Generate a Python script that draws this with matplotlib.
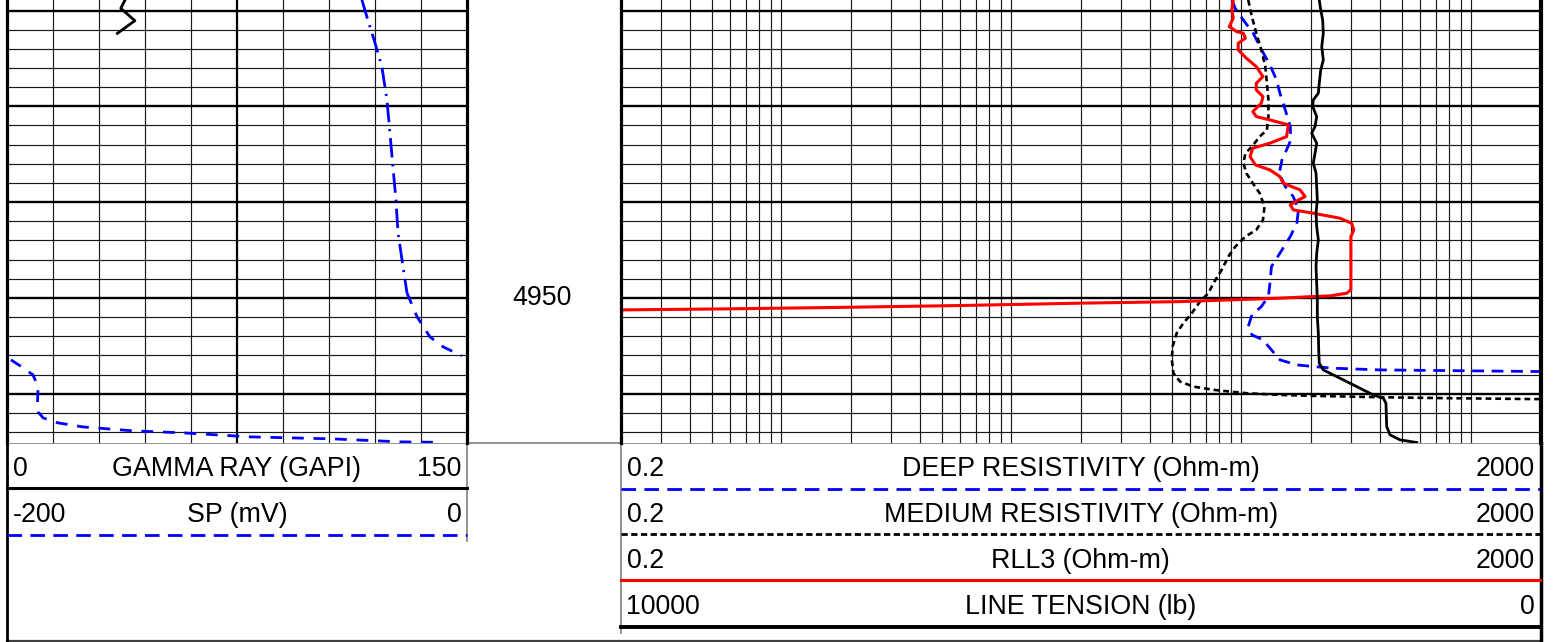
import numpy as np
import matplotlib
matplotlib.use("Agg")
import matplotlib.pyplot as plt
from matplotlib.ticker import FixedLocator, NullLocator

plt.rcParams['font.family'] = ['Liberation Sans', 'DejaVu Sans']
plt.rcParams['lines.scale_dashes'] = False

W, H = 1554, 642

# depth window shown (ft)
top_depth, bot_depth = 4918.9, 4965.15
depth_labels = [4950]

# gamma ray (GAPI) - log ends near the top of the window
gr_depth = [4918.89, 4919.77, 4921.06, 4922.38]
gr = [38.5, 37.1, 41.7, 36.0]

# SP (mV), values above 0 wrap around the -200..0 scale
sp_depth = [4918.89, 4920.67, 4923.38, 4925.89, 4929.33, 4932.78, 4936.33, 4939.77,
            4943.21, 4946.76, 4949.48, 4951.98, 4954.07, 4955.11, 4956.05, 4956.47,
            4957.2, 4958.04, 4959.29, 4960.65, 4961.9, 4962.53, 4963.05, 4963.47,
            4963.88, 4964.09, 4964.51, 4964.72, 4965.03, 4965.08]
sp = [-45.7, -43.5, -40.0, -37.0, -34.8, -33.5, -32.2, -30.9, -30.0, -27.8, -26.1,
      -21.7, -16.1, -10.4, -2.2, 1.7, 6.4, 11.3, 13.5, 13.3, 13.5, 15.7, 22.2, 33.0,
      54.8, 76.5, 105.7, 141.7, 170.9, 188.3]

# deep resistivity (ohm-m)
deep_depth = [4918.89, 4919.76, 4920.98, 4922.37, 4924.11, 4925.68, 4927.24, 4928.63,
              4930.37, 4932.12, 4933.51, 4934.55, 4935.6, 4936.98, 4938.38, 4939.43,
              4940.81, 4942.2, 4943.6, 4945.33, 4946.73, 4948.47, 4949.86, 4950.91,
              4951.77, 4953.0, 4953.86, 4954.38, 4955.43, 4956.47, 4956.99, 4957.17,
              4957.34, 4957.52, 4957.59, 4957.69, 4957.77, 4965.2]
deep = [91, 93.8, 101.8, 112.5, 122.4, 133, 142, 147, 155, 163, 164, 157, 150, 146,
        155, 168, 177, 174, 163, 147, 135, 133, 131, 122, 111, 107, 111, 124, 135,
        147, 174, 205, 251, 400, 780, 2000, 2600, 3000]

# medium resistivity (ohm-m)
med_depth = [4918.89, 4920.64, 4922.37, 4924.11, 4925.85, 4927.59, 4929.33, 4931.07,
             4932.46, 4933.16, 4934.21, 4934.9, 4935.94, 4936.98, 4938.03, 4939.07,
             4940.47, 4941.86, 4942.9, 4943.6, 4944.65, 4945.69, 4947.08, 4948.47,
             4949.51, 4950.39, 4951.6, 4952.64, 4953.68, 4955.08, 4956.47, 4957.86,
             4958.74, 4959.26, 4959.6, 4959.78, 4959.95, 4960.13, 4960.23, 4960.37,
             4960.47, 4960.57, 4960.65, 4965.2]
med = [107, 111, 116, 122, 127, 129, 131, 131, 129, 120, 111, 104, 102, 105, 112, 120,
       126, 124, 116, 104, 94, 87.7, 82, 75.5, 71.8, 66, 60.8, 55.9, 52.3, 50.2, 49.8,
       50.6, 54.1, 61.8, 75.5, 89.1, 105, 147, 205, 400, 780, 2000, 2600, 3000]

# RLL3 (ohm-m)
rll3_depth = [4918.89, 4919.94, 4920.8, 4921.68, 4922.2, 4922.37, 4922.89, 4923.41,
              4924.11, 4924.98, 4925.85, 4926.9, 4927.59, 4928.29, 4928.99, 4929.68,
              4930.55, 4931.07, 4931.42, 4931.94, 4933.16, 4933.85, 4934.37, 4935.25,
              4936.12, 4936.64, 4937.34, 4938.03, 4938.73, 4939.43, 4939.77, 4940.29,
              4940.81, 4941.16, 4941.68, 4942.2, 4942.9, 4943.6, 4949.16, 4949.51,
              4949.79, 4949.86, 4950.03, 4950.21, 4950.39, 4950.55, 4950.8, 4951.01,
              4951.15, 4951.25, 4951.3]
rll3 = [92.1, 90.8, 92.1, 88.5, 95.3, 101.8, 104, 96.8, 96.8, 105, 116, 124, 116, 116,
        124, 122, 112, 116, 133, 160, 157, 133, 112, 109, 115, 133, 147, 152, 180, 189,
        177, 163, 168, 205, 268, 301, 308, 299, 299, 287, 243, 205, 147, 89, 54, 20,
        5.9, 1.6, 0.56, 0.21, 0.15]

# line tension (lb)
ten_depth = [4918.89, 4919.94, 4920.98, 4922.37, 4923.77, 4925.16, 4926.2, 4927.59,
             4928.63, 4929.33, 4930.03, 4931.07, 4932.12, 4932.81, 4933.85, 4934.9,
             4935.94, 4936.98, 4938.38, 4939.77, 4941.16, 4942.56, 4943.95, 4945.33,
             4946.73, 4948.47, 4950.21, 4951.95, 4953.68, 4955.43, 4956.82, 4957.52,
             4958.22, 4959.26, 4960.13, 4960.47, 4960.99, 4963.43, 4964.3, 4964.82,
             4965.1]
tension = [2407, 2391, 2370, 2363, 2380, 2363, 2391, 2407, 2417, 2472, 2478, 2435,
           2453, 2489, 2435, 2453, 2472, 2442, 2435, 2428, 2442, 2435, 2417, 2435, 2442,
           2435, 2428, 2428, 2417, 2413, 2407, 2363, 2217, 2000, 1820, 1711, 1682, 1674,
           1638, 1529, 1348]

fig = plt.figure(figsize=(W / 100, H / 100), dpi=100)


def box(x0, y0, x1, y1):
    return [x0 / W, 1 - y1 / H, (x1 - x0) / W, (y1 - y0) / H]


frame = fig.add_axes([0, 0, 1, 1], zorder=0)
frame.set_xlim(0, W)
frame.set_ylim(H, 0)
frame.axis('off')


def style_track(ax):
    ax.set_ylim(bot_depth, top_depth)
    ax.tick_params(which='both', length=0, labelbottom=False, labelleft=False,
                   labeltop=False, labelright=False)
    ax.yaxis.set_major_locator(FixedLocator(np.arange(4920, 4970, 10)))
    ax.yaxis.set_minor_locator(FixedLocator(np.arange(4918, 4968, 2)))
    ax.grid(axis='y', which='major', color='black', lw=1.7)
    ax.grid(axis='y', which='minor', color='#1a1a1a', lw=0.85)
    ax.spines['top'].set_visible(False)
    ax.spines['bottom'].set_visible(False)
    for s in ('left', 'right'):
        ax.spines[s].set_linewidth(2.3)
    ax.set_axisbelow(True)


def hide_twin(ax):
    ax.tick_params(which='both', length=0, labeltop=False, labelbottom=False)
    for s in ax.spines.values():
        s.set_visible(False)
    ax.patch.set_visible(False)


# left track: gamma ray + SP
ax_gr = fig.add_axes(box(7, 0, 467, 443), zorder=2)
style_track(ax_gr)
ax_gr.set_xlim(0, 150)
ax_gr.xaxis.set_major_locator(FixedLocator([75]))
ax_gr.xaxis.set_minor_locator(FixedLocator(np.arange(15, 150, 15)))
ax_gr.grid(axis='x', which='major', color='black', lw=1.6)
ax_gr.grid(axis='x', which='minor', color='#1a1a1a', lw=0.85)
ax_gr.plot(gr, gr_depth, color='black', lw=2.0, solid_joinstyle='round')

ax_sp = ax_gr.twiny()
ax_sp.set_zorder(3)
hide_twin(ax_sp)
ax_sp.set_xlim(-200, 0)
sp = np.array(sp, dtype=float)
sp_depth = np.array(sp_depth)
sp_show = np.where(sp > 0, sp - 200, sp)
jump = np.where(np.diff(np.sign(sp)) != 0)[0] + 1
sp_show_b = np.insert(sp_show, jump, np.nan)
sp_depth_b = np.insert(sp_depth, jump, np.nan)
n_up = 11
ax_sp.plot(sp_show[:n_up], sp_depth[:n_up], color='#0000ff', lw=2.0,
           dashes=(14, 5, 1.5, 5))
ax_sp.plot(sp_show_b[n_up - 1:], sp_depth_b[n_up - 1:], color='#0000ff', lw=2.0,
           dashes=(8.5, 7))

# depth track
ax_dep = fig.add_axes(box(467, 0, 620.7, 443), zorder=1)
ax_dep.set_ylim(bot_depth, top_depth)
ax_dep.set_xlim(0, 1)
ax_dep.axis('off')
fs = 19.3
for d in depth_labels:
    ax_dep.text(0.49, d, str(d), ha='center', va='center', fontsize=fs)

# right track: resistivities + tension
ax_res = fig.add_axes(box(620.7, 0, 1540.7, 443), zorder=2)
style_track(ax_res)
ax_res.spines['right'].set_linewidth(3.0)
ax_res.set_xscale('log')
ax_res.set_xlim(0.2, 2000)
log_lines = [m * 10.0 ** e for e in range(-1, 4) for m in range(1, 10)]
log_lines = [v for v in log_lines if 0.2 < v < 2000]
ax_res.xaxis.set_major_locator(FixedLocator(log_lines))
ax_res.xaxis.set_minor_locator(NullLocator())
ax_res.grid(axis='x', which='major', color='#1a1a1a', lw=0.85)
ax_res.plot(deep, deep_depth, color='#0000ff', lw=2.0, dashes=(8.5, 5.5))
ax_res.plot(med, med_depth, color='black', lw=1.9, dashes=(4.2, 2.8))
ax_res.plot(rll3, rll3_depth, color='#ff0000', lw=2.2, solid_joinstyle='round')

ax_ten = ax_res.twiny()
ax_ten.set_zorder(3)
hide_twin(ax_ten)
ax_ten.set_xlim(10000, 0)
ax_ten.plot(tension, ten_depth, color='black', lw=2.0, solid_joinstyle='round')

# header / frame
gray = '#808080'
frame.plot([7, 1540.7], [443, 443], color=gray, lw=1.2)
frame.plot([7, 1540.7], [640.5, 640.5], color='#404040', lw=1.6)
frame.plot([7, 7], [443, 641], color='black', lw=2.0)
frame.plot([1540.7, 1540.7], [443, 642], color='black', lw=2.5)
frame.plot([467, 467], [443, 541], color=gray, lw=1.2)
frame.plot([620.7, 620.7], [443, 633], color=gray, lw=1.2)

left_rows = [('0', 'GAMMA RAY (GAPI)', '150'), ('-200', 'SP (mV)', '0')]
right_rows = [('0.2', 'DEEP RESISTIVITY (Ohm-m)', '2000'),
              ('0.2', 'MEDIUM RESISTIVITY (Ohm-m)', '2000'),
              ('0.2', 'RLL3 (Ohm-m)', '2000'),
              ('10000', 'LINE TENSION (lb)', '0')]
row_base = [475.5, 521.5, 567.5, 613.5]
for (lo, name, hi), yb in zip(left_rows, row_base):
    frame.text(12.5, yb, lo, ha='left', va='baseline', fontsize=fs)
    frame.text(237, yb, name, ha='center', va='baseline', fontsize=fs)
    frame.text(461.5, yb, hi, ha='right', va='baseline', fontsize=fs)
for (lo, name, hi), yb in zip(right_rows, row_base):
    frame.text(626.5, yb, lo, ha='left', va='baseline', fontsize=fs)
    frame.text(1080.7, yb, name, ha='center', va='baseline', fontsize=fs)
    frame.text(1534.5, yb, hi, ha='right', va='baseline', fontsize=fs)

# legend strokes under each header row
frame.plot([7, 467], [488.3, 488.3], color='black', lw=2.2)
frame.plot([7, 467], [534.5, 534.5], color='#0000ff', lw=2.0, dashes=(10.5, 6))
frame.plot([621, 1540], [488.5, 488.5], color='#0000ff', lw=2.0, dashes=(10.5, 6))
frame.plot([621, 1540], [534, 534], color='black', lw=2.0, dashes=(4.5, 2.5))
frame.plot([621, 1540], [580, 580], color='#ff0000', lw=2.2)
frame.plot([621, 1540], [626.5, 626.5], color='black', lw=2.8)

fig.savefig('out.png', dpi=100)
